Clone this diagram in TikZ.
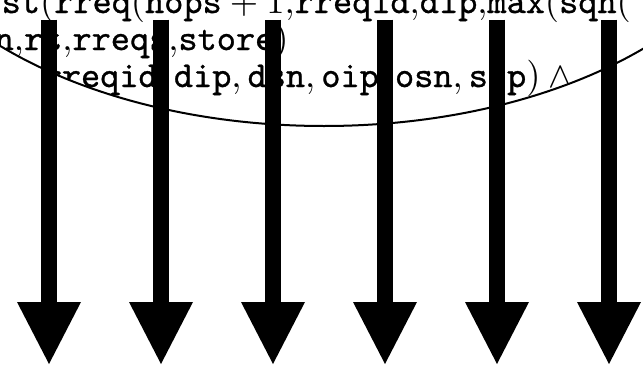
\documentclass[tikz,border=0pt]{standalone}
\usepackage{fontspec}
\usetikzlibrary{arrows.meta}
\newfontfamily\ttb[FakeBold=0.9]{Latin Modern Mono}
\tikzset{
  formula/.style={anchor=base west, inner sep=0pt, scale=3.65},
  downarrow/.style={line width=15.5pt, -{Triangle[length=62pt,width=64pt,line width=0pt]}},
  rim/.style={line width=2pt},
}
\newcommand{\tv}[1]{\mathord{\hbox{\ttb #1}}}
\begin{document}
\begin{tikzpicture}[x=1pt,y=-1pt]
\useasboundingbox (0,0) rectangle (643,370);
\clip (0,0) rectangle (643,370);
% lower rim of the big ellipse
\draw[rim] (324,-136) ellipse [x radius=450, y radius=262];
% formula lines, kept inside the ellipse
\begin{scope}
  \clip (324,-136) ellipse [x radius=450, y radius=262];
  \node[formula] (l1) at (1,13) {$\tv{st}(\tv{rreq}(\tv{nops}+1{,}\tv{rreqid}{,}\tv{dip}{,}\tv{max}(\tv{sqn}($};
  \node[formula] (l2) at (-6,50) {$\tv{n}{,}\tv{rt}{,}\tv{rreqs}{,}\tv{store})$};
  \node[formula] (l3) at (42,87) {$\tv{rreqid},\tv{dip},\tv{dsn},\tv{oip},\tv{osn},\tv{sip})\wedge{}$};
\end{scope}
% outgoing arrows
\foreach \i/\x in {1/49,2/161,3/273,4/385,5/497,6/609}{
  \coordinate (top\i) at (\x,19.5);
  \coordinate (tip\i) at (\x,364);
  \draw[downarrow] (top\i) -- (tip\i);
}
\end{tikzpicture}
\end{document}
